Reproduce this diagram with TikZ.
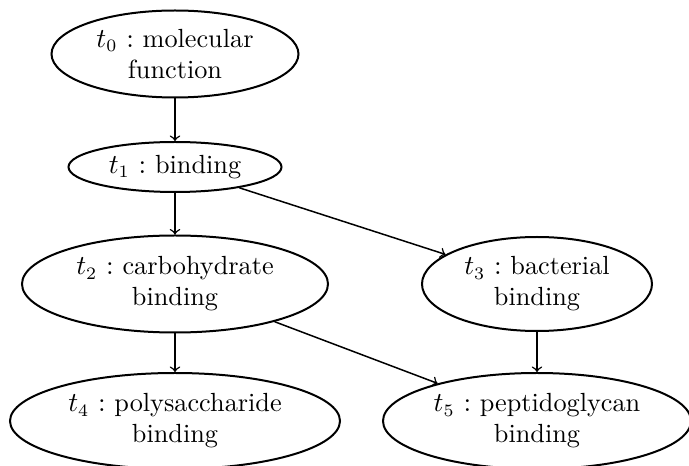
\documentclass[tikz,border=0pt]{standalone}
\usetikzlibrary{shapes.geometric}
\begin{document}
\begin{tikzpicture}[x=0.4pt,y=-0.4pt,
  term/.style={draw,ellipse,thick,inner sep=0pt,align=center,font=\fontsize{10.5}{12.4}\selectfont},
  link/.style={->,semithick}]
\useasboundingbox (0,0) rectangle (689,466);
\node[term,minimum width=98.8pt,minimum height=34.8pt] (t0) at (175,54) {$t_0$ $:$ molecular\\function};
\node[term,minimum width=85.2pt,minimum height=20pt] (t1) at (175,167) {$t_1$ $:$ binding};
\node[term,minimum width=122.4pt,minimum height=38.8pt] (t2) at (175,284) {$t_2$ $:$ carbohydrate\\binding};
\node[term,minimum width=92pt,minimum height=37.6pt] (t3) at (537,284) {$t_3$ $:$ bacterial\\binding};
\node[term,minimum width=132pt,minimum height=38.4pt] (t4) at (175,421) {$t_4$ $:$ polysaccharide\\binding};
\node[term,minimum width=123.2pt,minimum height=38.4pt] (t5) at (537,421) {$t_5$ $:$ peptidoglycan\\binding};
\draw[link] (t0) -- (t1);
\draw[link] (t1) -- (t2);
\draw[link] (t1) -- (t3);
\draw[link] (t2) -- (t4);
\draw[link] (t2) -- (t5);
\draw[link] (t3) -- (t5);
\end{tikzpicture}
\end{document}
